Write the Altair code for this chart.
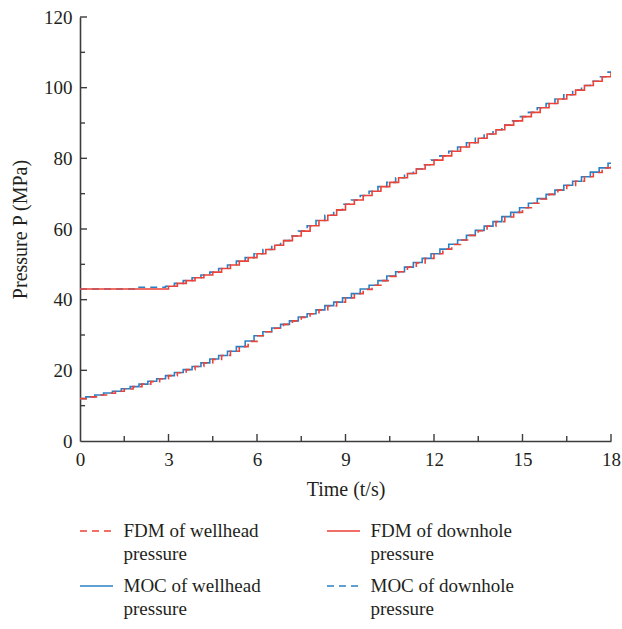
import altair as alt
import pandas as pd

FONT = "Liberation Serif"
TEXT_COLOR = "#231f20"
RED = "#ec4237"
BLUE = "#2b80c4"

# ---- data (time in s, pressure in MPa) ----
t_fdm = [0.0, 0.3, 0.6, 0.9, 1.2, 1.5, 1.8, 2.1, 2.4, 2.7,
         3.0, 3.3, 3.6, 3.9, 4.2, 4.5, 4.8, 5.1, 5.4, 5.7,
         6.0, 6.3, 6.6, 6.9, 7.2, 7.5, 7.8, 8.1, 8.4, 8.7,
         9.0, 9.3, 9.6, 9.9, 10.2, 10.5, 10.8, 11.1, 11.4, 11.7,
         12.0, 12.3, 12.6, 12.9, 13.2, 13.5, 13.8, 14.1, 14.4, 14.7,
         15.0, 15.3, 15.6, 15.9, 16.2, 16.5, 16.8, 17.1, 17.4, 17.7,
         18.0]
wellhead_fdm = [12.0, 12.5, 13.0, 13.5, 14.1, 14.7, 15.4, 16.1, 16.8, 17.6,
                18.5, 19.3, 20.2, 21.1, 22.1, 23.1, 24.2, 25.4, 26.7, 28.2,
                29.8, 30.9, 31.9, 33.0, 34.0, 35.0, 36.0, 37.1, 38.2, 39.3,
                40.5, 41.7, 42.9, 44.1, 45.4, 46.6, 47.9, 49.2, 50.4, 51.7,
                53.0, 54.3, 55.6, 56.9, 58.2, 59.5, 60.8, 62.1, 63.4, 64.7,
                66.0, 67.3, 68.5, 69.8, 71.0, 72.3, 73.5, 74.8, 76.0, 77.3,
                78.6]
downhole_fdm = [43.0, 43.0, 43.0, 43.0, 43.0, 43.0, 43.0, 43.0, 43.0, 43.0,
                43.8, 44.6, 45.4, 46.2, 47.0, 47.8, 48.8, 49.8, 50.9, 51.9,
                53.0, 54.2, 55.4, 56.7, 58.0, 59.4, 60.9, 62.4, 63.9, 65.4,
                67.0, 68.2, 69.5, 70.7, 72.0, 73.2, 74.5, 75.7, 77.0, 78.2,
                79.5, 80.7, 82.0, 83.2, 84.4, 85.7, 86.9, 88.1, 89.4, 90.6,
                91.8, 93.0, 94.3, 95.5, 96.8, 98.0, 99.3, 100.6, 101.8, 103.1,
                104.4]

t_moc = [0.0, 0.2, 0.5, 0.8, 1.1, 1.4, 1.7, 2.0, 2.3, 2.6,
         2.9, 3.2, 3.5, 3.8, 4.1, 4.4, 4.7, 5.0, 5.3, 5.6,
         5.9, 6.2, 6.5, 6.8, 7.1, 7.4, 7.7, 8.0, 8.3, 8.6,
         8.9, 9.2, 9.5, 9.8, 10.1, 10.4, 10.7, 11.0, 11.3, 11.6,
         11.9, 12.2, 12.5, 12.8, 13.1, 13.4, 13.7, 14.0, 14.3, 14.6,
         14.9, 15.2, 15.5, 15.8, 16.1, 16.4, 16.7, 17.0, 17.3, 17.6,
         17.9, 18.0]
wellhead_moc = [12.0, 12.5, 13.0, 13.6, 14.1, 14.8, 15.4, 16.1, 16.9, 17.6,
                18.5, 19.4, 20.2, 21.1, 22.1, 23.2, 24.2, 25.4, 26.7, 28.3,
                29.8, 30.9, 32.0, 33.0, 34.0, 35.1, 36.0, 37.1, 38.3, 39.3,
                40.5, 41.7, 43.0, 44.1, 45.4, 46.7, 47.9, 49.2, 50.5, 51.7,
                53.0, 54.3, 55.7, 56.9, 58.2, 59.6, 60.8, 62.1, 63.5, 64.7,
                66.0, 67.3, 68.6, 69.8, 71.0, 72.4, 73.5, 74.8, 76.1, 77.3,
                78.6, 78.6]
downhole_moc = [43.0, 43.0, 43.0, 43.0, 43.0, 43.0, 43.0, 43.5, 43.5, 43.5,
                43.8, 44.6, 45.4, 46.2, 47.0, 47.8, 48.8, 49.8, 50.9, 51.9,
                53.0, 54.2, 55.4, 56.7, 58.0, 59.4, 60.9, 62.4, 63.9, 65.4,
                67.0, 68.2, 69.5, 70.7, 72.0, 73.2, 74.5, 75.7, 77.0, 78.2,
                79.5, 80.7, 82.0, 83.2, 84.4, 85.7, 86.9, 88.1, 89.4, 90.6,
                91.8, 93.0, 94.3, 95.5, 96.8, 98.0, 99.3, 100.6, 101.8, 103.1,
                104.4, 104.4]

assert len(t_fdm) == len(wellhead_fdm) == len(downhole_fdm)
assert len(t_moc) == len(wellhead_moc) == len(downhole_moc)

x_labels = [0, 3, 6, 9, 12, 15, 18]
y_labels = [0, 20, 40, 60, 80, 100, 120]
x_major_ticks = [3, 6, 9, 12, 15, 18]
x_minor_ticks = [1.5, 4.5, 7.5, 10.5, 13.5, 16.5]
y_major_ticks = [20, 40, 60, 80, 100, 120]
y_minor_ticks = [10, 30, 50, 70, 90, 110]

legend_series = ["FDM of wellhead pressure", "FDM of downhole pressure",
                 "MOC of wellhead pressure", "MOC of downhole pressure"]
legend_line1 = ["FDM of wellhead", "FDM of downhole", "MOC of wellhead", "MOC of downhole"]
legend_line2 = ["pressure", "pressure", "pressure", "pressure"]
legend_col = [0, 1, 0, 1]
legend_row = [0, 0, 1, 1]
legend_colors = [RED, RED, BLUE, BLUE]
legend_dashes = [[7, 5], [1, 0], [1, 0], [7, 5]]

W, H = 531, 424
FS = 19
TFS = 20

x_scale = alt.Scale(domain=[0, 18], nice=False, zero=False)
y_scale = alt.Scale(domain=[0, 120], nice=False)
x_axis = alt.Axis(values=x_labels, tickSize=0, labelPadding=9, titlePadding=10,
                  labelFlush=False, labelOverlap=False)
y_axis = alt.Axis(values=y_labels, tickSize=0, labelPadding=8, titlePadding=13,
                  labelFlush=False, labelOverlap=False)
X_TITLE = "Time (t/s)"
Y_TITLE = "Pressure P (MPa)"


def xenc():
    return alt.X("t:Q", scale=x_scale, axis=x_axis, title=X_TITLE)


def yenc():
    return alt.Y("p:Q", scale=y_scale, axis=y_axis, title=Y_TITLE)


def series_layer(t, p, color, dash=None):
    df = pd.DataFrame({"t": t, "p": p})
    kw = dict(interpolate="step-after", color=color, strokeWidth=1.6, clip=True)
    if dash is not None:
        kw["strokeDash"] = dash
    return alt.Chart(df).mark_line(**kw).encode(x=xenc(), y=yenc())


lines = [
    series_layer(t_moc, wellhead_moc, BLUE),
    series_layer(t_moc, downhole_moc, BLUE, [7, 5]),
    series_layer(t_fdm, wellhead_fdm, RED, [7, 5]),
    series_layer(t_fdm, downhole_fdm, RED),
]


def y_ticks(vals, length):
    return alt.Chart(pd.DataFrame({"p": vals})).mark_rule(color="#3c3c3c", strokeWidth=1.4).encode(
        y=yenc(), x=alt.value(0), x2=alt.value(length))


def x_ticks(vals, length):
    return alt.Chart(pd.DataFrame({"t": vals})).mark_rule(color="#3c3c3c", strokeWidth=1.4).encode(
        x=xenc(), y=alt.value(H), y2=alt.value(H - length))


main = alt.layer(*lines,
                 y_ticks(y_major_ticks, 7), y_ticks(y_minor_ticks, 5),
                 x_ticks(x_major_ticks, 7), x_ticks(x_minor_ticks, 5))

legend_df = pd.DataFrame({
    "series": legend_series, "l1": legend_line1, "l2": legend_line2,
    "col": legend_col, "row": legend_row,
})
leg_x = alt.X("col:O", scale=alt.Scale(range=[16.5, 263.5], padding=0), axis=None)
leg_y = alt.Y("row:O", scale=alt.Scale(range=[514, 569], padding=0), axis=None)

leg_sym = alt.Chart(legend_df).mark_point(shape="M-1,0L1,0", size=1089, filled=False,
                                          strokeWidth=1.6, opacity=1).encode(
    x=leg_x, y=leg_y,
    color=alt.Color("series:N", scale=alt.Scale(domain=legend_series, range=legend_colors), legend=None),
    strokeDash=alt.StrokeDash("series:N", scale=alt.Scale(domain=legend_series, range=legend_dashes), legend=None),
)
leg_t1 = alt.Chart(legend_df).mark_text(align="left", baseline="middle", dx=27, font=FONT,
                                        fontSize=FS, color=TEXT_COLOR).encode(x=leg_x, y=leg_y, text="l1:N")
leg_t2 = alt.Chart(legend_df).mark_text(align="left", baseline="middle", dx=27, dy=23, font=FONT,
                                        fontSize=FS, color=TEXT_COLOR).encode(x=leg_x, y=leg_y, text="l2:N")
legend = alt.layer(leg_sym, leg_t1, leg_t2)

chart = alt.layer(main, legend).resolve_scale(
    x="independent", y="independent", color="independent", strokeDash="independent"
).properties(
    width=W, height=H,
    autosize=alt.AutoSizeParams(type="none"),
    padding={"left": 80, "top": 17, "right": 11, "bottom": 188},
    background="white",
).configure_view(stroke=None).configure_axis(
    grid=False, domainColor="#3c3c3c", domainWidth=1.6,
    labelFont=FONT, labelFontSize=FS, labelColor=TEXT_COLOR,
    titleFont=FONT, titleFontSize=TFS, titleFontWeight="normal", titleColor=TEXT_COLOR,
)

chart.save("out.html", embed_options={"renderer": "svg", "actions": False})
